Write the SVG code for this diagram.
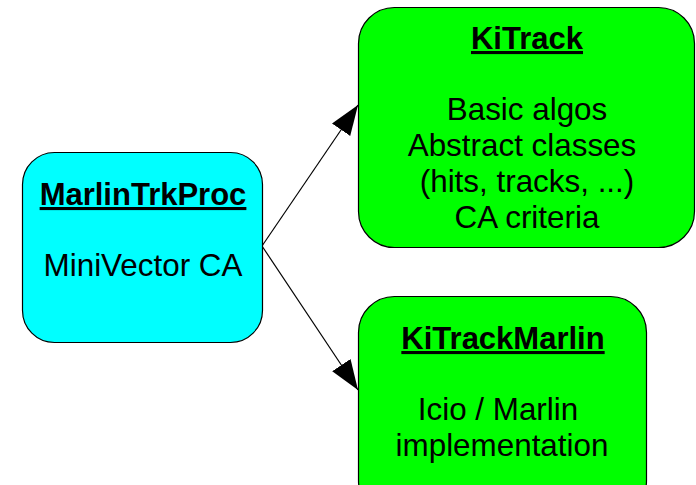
<svg xmlns="http://www.w3.org/2000/svg" width="696" height="485" viewBox="0 0 696 485">
<style>
.box{stroke:#000;stroke-width:1.2}
.t{font-family:"Liberation Sans",Arial,sans-serif;font-size:31.4px;fill:#000;text-anchor:middle}
.h{font-size:31px;font-weight:bold;text-decoration:underline}
.c{stroke:#000;stroke-width:1.2;fill:none}
</style>
<defs>
<marker id="ah" viewBox="0 0 30 22" refX="30" refY="11" markerWidth="30" markerHeight="22" markerUnits="userSpaceOnUse" orient="auto">
<path d="M0,0 L30,11 L0,22 Z" fill="#000"/>
</marker>
</defs>
<rect width="696" height="485" fill="#fff"/>
<g id="connectors">
<line class="c" x1="262" y1="246" x2="358" y2="105" marker-end="url(#ah)"/>
<line class="c" x1="262" y1="246" x2="358" y2="390" marker-end="url(#ah)"/>
</g>
<g id="marlintrkproc">
<rect class="box" x="22.5" y="152.5" width="240" height="190" rx="32" fill="#00ffff"/>
<text class="t h" x="143" y="205">MarlinTrkProc</text>
<text class="t" x="143" y="276">MiniVector CA</text>
</g>
<g id="kitrack">
<rect class="box" x="358.5" y="7.5" width="336" height="240" rx="36" fill="#00ff00"/>
<text class="t h" x="527" y="49">KiTrack</text>
<text class="t" x="527" y="120">Basic algos</text>
<text class="t" x="522" y="156">Abstract classes</text>
<text class="t" x="527" y="192">(hits, tracks, ...)</text>
<text class="t" x="527" y="228">CA criteria</text>
</g>
<g id="kitrackmarlin">
<rect class="box" x="358.5" y="296.5" width="288" height="220" rx="36" fill="#00ff00"/>
<text class="t h" x="503" y="349">KiTrackMarlin</text>
<text class="t" x="498" y="420">Icio / Marlin</text>
<text class="t" x="502" y="456">implementation</text>
</g>
</svg>
